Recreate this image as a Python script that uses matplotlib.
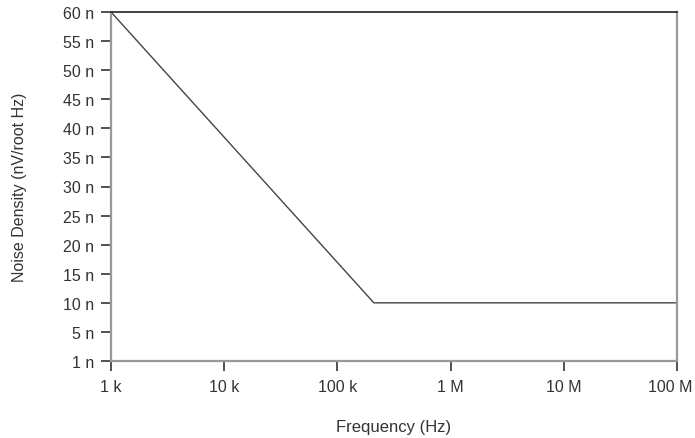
import matplotlib
matplotlib.use("Agg")
import matplotlib.pyplot as plt
import matplotlib.transforms as mtransforms
import numpy as np

plt.rcParams['font.family'] = ['Liberation Sans', 'DejaVu Sans']

freq_hz = [1e3, 2.1e5, 1e8]
noise_nv = [60, 10, 10]
x_ticks = [1e3, 1e4, 1e5, 1e6, 1e7, 1e8]
x_labels = ['1 k', '10 k', '100 k', '1 M', '10 M', '100 M']
y_ticks = [1, 5, 10, 15, 20, 25, 30, 35, 40, 45, 50, 55, 60]
y_labels = [f'{v} n' for v in y_ticks]

def fwd(v):
    v = np.asarray(v, dtype=float)
    return np.where(v < 5, (v - 1) / 4.0, v / 5.0)

def inv(p):
    p = np.asarray(p, dtype=float)
    return np.where(p < 1, p * 4.0 + 1, p * 5.0)

fig = plt.figure(figsize=(6.95, 4.39), dpi=100)
ax = fig.add_axes([111/695, 1-362/439, (677-111)/695, (362-13)/439])
ax.plot(freq_hz, noise_nv, color='#444444', lw=1.0)
ax.set_xscale('log')
ax.set_yscale('function', functions=(fwd, inv))
ax.set_xlim(1e3, 1e8)
ax.set_ylim(1, 60)
ax.set_xticks(x_ticks)
ax.set_xticklabels(x_labels)
ax.xaxis.set_minor_locator(matplotlib.ticker.NullLocator())
ax.set_yticks(y_ticks)
ax.set_yticklabels(y_labels)
ax.yaxis.set_minor_locator(matplotlib.ticker.NullLocator())
ax.tick_params(axis='both', direction='out', length=7, width=1.2, color='#333333',
               labelsize=11.5, labelcolor='#333333', pad=5)
ax.tick_params(axis='x', pad=6)
last = ax.get_xticklabels()[-1]
last.set_transform(last.get_transform() + mtransforms.ScaledTranslation(-7/100, 0, fig.dpi_scale_trans))
for s in ['left', 'bottom', 'right']:
    ax.spines[s].set_color('#999999')
    ax.spines[s].set_linewidth(1.6)
ax.spines['top'].set_color('#222222')
ax.spines['top'].set_linewidth(1.2)
ax.set_xlabel('Frequency (Hz)', fontsize=12, color='#333333', labelpad=18)
ax.set_ylabel('Noise Density (nV/root Hz)', fontsize=11.5, color='#333333', labelpad=26)
fig.savefig('out.png', dpi=100, facecolor='white')
